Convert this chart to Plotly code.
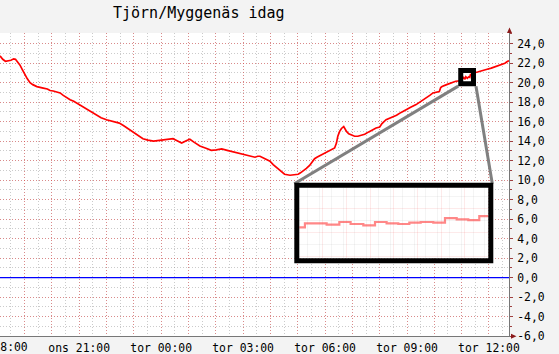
import plotly.graph_objects as go
from datetime import datetime

TITLE = "Tjörn/Myggenäs idag"

# ---- data (time, temperature °C) ----
times = [
    "2024-05-15 18:06", "2024-05-15 18:12", "2024-05-15 18:18", "2024-05-15 18:24",
    "2024-05-15 18:30", "2024-05-15 18:36", "2024-05-15 18:40", "2024-05-15 18:45",
    "2024-05-15 18:50", "2024-05-15 18:55", "2024-05-15 19:01", "2024-05-15 19:06",
    "2024-05-15 19:12", "2024-05-15 19:18", "2024-05-15 19:27", "2024-05-15 19:34",
    "2024-05-15 19:41", "2024-05-15 19:50", "2024-05-15 19:56", "2024-05-15 20:03",
    "2024-05-15 20:10", "2024-05-15 20:18", "2024-05-15 20:25", "2024-05-15 20:32",
    "2024-05-15 20:40", "2024-05-15 20:48", "2024-05-15 20:55", "2024-05-15 21:05",
    "2024-05-15 21:16", "2024-05-15 21:25", "2024-05-15 21:38", "2024-05-15 21:48",
    "2024-05-15 22:00", "2024-05-15 22:10", "2024-05-15 22:19", "2024-05-15 22:28",
    "2024-05-15 22:37", "2024-05-15 22:48", "2024-05-15 22:59", "2024-05-15 23:10",
    "2024-05-15 23:20", "2024-05-15 23:31", "2024-05-15 23:43", "2024-05-15 23:52",
    "2024-05-16 00:05", "2024-05-16 00:15", "2024-05-16 00:26", "2024-05-16 00:35",
    "2024-05-16 00:45", "2024-05-16 00:55", "2024-05-16 01:03", "2024-05-16 01:12",
    "2024-05-16 01:25", "2024-05-16 01:37", "2024-05-16 01:50", "2024-05-16 02:01",
    "2024-05-16 02:13", "2024-05-16 02:25", "2024-05-16 02:38", "2024-05-16 02:52",
    "2024-05-16 03:07", "2024-05-16 03:17", "2024-05-16 03:26", "2024-05-16 03:32",
    "2024-05-16 03:37", "2024-05-16 03:48", "2024-05-16 03:59", "2024-05-16 04:06",
    "2024-05-16 04:13", "2024-05-16 04:22", "2024-05-16 04:31", "2024-05-16 04:43",
    "2024-05-16 04:52", "2024-05-16 05:01", "2024-05-16 05:06", "2024-05-16 05:11",
    "2024-05-16 05:19", "2024-05-16 05:26", "2024-05-16 05:32", "2024-05-16 05:37",
    "2024-05-16 05:42", "2024-05-16 05:48", "2024-05-16 05:55", "2024-05-16 06:03",
    "2024-05-16 06:12", "2024-05-16 06:21", "2024-05-16 06:25", "2024-05-16 06:28",
    "2024-05-16 06:32", "2024-05-16 06:36", "2024-05-16 06:41", "2024-05-16 06:44",
    "2024-05-16 06:47", "2024-05-16 06:52", "2024-05-16 06:58", "2024-05-16 07:05",
    "2024-05-16 07:12", "2024-05-16 07:20", "2024-05-16 07:27", "2024-05-16 07:36",
    "2024-05-16 07:45", "2024-05-16 07:52", "2024-05-16 08:00", "2024-05-16 08:05",
    "2024-05-16 08:14", "2024-05-16 08:25", "2024-05-16 08:37", "2024-05-16 08:47",
    "2024-05-16 08:58", "2024-05-16 09:09", "2024-05-16 09:20", "2024-05-16 09:32",
    "2024-05-16 09:43", "2024-05-16 09:50", "2024-05-16 09:57", "2024-05-16 10:04",
    "2024-05-16 10:11", "2024-05-16 10:14", "2024-05-16 10:17", "2024-05-16 10:27",
    "2024-05-16 10:37", "2024-05-16 10:47", "2024-05-16 10:57:07", "2024-05-16 10:58:50",
    "2024-05-16 11:00:27", "2024-05-16 11:02:03", "2024-05-16 11:03:56", "2024-05-16 11:05:36",
    "2024-05-16 11:07:29", "2024-05-16 11:09:13", "2024-05-16 11:10:56", "2024-05-16 11:12:40",
    "2024-05-16 11:14:18", "2024-05-16 11:15:59", "2024-05-16 11:17:51", "2024-05-16 11:19:35",
    "2024-05-16 11:21:19", "2024-05-16 11:23:02", "2024-05-16 11:24:40", "2024-05-16 11:26:20",
    "2024-05-16 11:35", "2024-05-16 11:45", "2024-05-16 11:54", "2024-05-16 12:05",
    "2024-05-16 12:16", "2024-05-16 12:26", "2024-05-16 12:35", "2024-05-16 12:41",
    "2024-05-16 12:44",
]
temps = [
    22.75, 22.4, 22.2, 22.25,
    22.3, 22.45, 22.4, 22.1,
    21.8, 21.35, 20.8, 20.4,
    20.0, 19.8, 19.6, 19.55,
    19.45, 19.35, 19.2, 19.15,
    19.05, 18.95, 18.7, 18.45,
    18.25, 18.1, 17.9, 17.6,
    17.3, 17.05, 16.7, 16.4,
    16.2, 16.1, 16.0, 15.85,
    15.6, 15.25, 14.85, 14.5,
    14.25, 14.1, 14.0, 14.05,
    14.15, 14.15, 14.25, 14.05,
    13.8, 14.05, 14.2, 13.9,
    13.5, 13.3, 13.05, 13.1,
    13.2, 13.05, 12.9, 12.8,
    12.6, 12.45, 12.35, 12.45,
    12.45, 12.2, 11.95, 11.6,
    11.3, 10.9, 10.6, 10.5,
    10.55, 10.6, 10.75, 10.9,
    11.2, 11.5, 11.9, 12.2,
    12.35, 12.5, 12.65, 12.85,
    13.05, 13.3, 13.8, 14.5,
    15.0, 15.3, 15.5, 15.2,
    15.0, 14.75, 14.6, 14.5,
    14.5, 14.6, 14.7, 14.95,
    15.2, 15.35, 15.45, 15.8,
    16.2, 16.4, 16.65, 16.95,
    17.25, 17.5, 17.75, 18.1,
    18.45, 18.7, 18.95, 19.0,
    19.1, 19.5, 19.6, 19.8,
    20.0, 20.15, 20.2, 20.5,
    20.5, 20.4, 20.6, 20.45,
    20.35, 20.6, 20.5, 20.45,
    20.55, 20.6, 20.55, 20.9,
    20.8, 20.75, 21.05, 21.0,
    21.1, 21.2, 21.35, 21.5,
    21.7, 21.85, 22.0, 22.2,
    22.25,
]

# tick labels
x_label_times = ["2024-05-15 18:00", "2024-05-15 21:00", "2024-05-16 00:00",
                 "2024-05-16 03:00", "2024-05-16 06:00", "2024-05-16 09:00",
                 "2024-05-16 12:00"]
x_label_texts = ["ons 18:00", "ons 21:00", "tor 00:00", "tor 03:00",
                 "tor 06:00", "tor 09:00", "tor 12:00"]
y_tick_vals = [-6, -4, -2, 0, 2, 4, 6, 8, 10, 12, 14, 16, 18, 20, 22, 24]
y_tick_text = ["-6,0", "-4,0", "-2,0", "0,0", "2,0", "4,0", "6,0", "8,0",
               "10,0", "12,0", "14,0", "16,0", "18,0", "20,0", "22,0", "24,0"]

X_RANGE = ["2024-05-15 18:06", "2024-05-16 12:44"]
Y_RANGE = [-6, 25.1]
ZOOM_X = ["2024-05-16 10:58", "2024-05-16 11:26"]
ZOOM_Y = [19.9, 21.25]
INSET_Y = [17.85, 23.2]

# ---- geometry ----
W, H = 559, 354
ML, MR, MT, MB = 0, 50, 33, 18
PW, PH = W - ML - MR, H - MT - MB
FONT = "DejaVu Sans Mono"

def pxx(px):
    return (px - ML) / PW

def pxy(py):
    return (H - MB - py) / PH

fmt = "%Y-%m-%d %H:%M"
t0 = datetime.strptime(X_RANGE[0], fmt)
t1 = datetime.strptime(X_RANGE[1], fmt)
span = (t1 - t0).total_seconds()

def tx(s):
    return (datetime.strptime(s, fmt) - t0).total_seconds() / span

def vy(v):
    return (v - Y_RANGE[0]) / (Y_RANGE[1] - Y_RANGE[0])

# hourly major grid positions with labels every third hour
grid_vals, grid_text = [], []
start_h = datetime.strptime("2024-05-15 19:00", fmt)
for k in range(18):
    t = start_h.timestamp() + k * 3600
    s = datetime.fromtimestamp(t).strftime(fmt)
    grid_vals.append(s)
    grid_text.append(x_label_texts[x_label_times.index(s)] if s in x_label_times else "")

MAJOR = "rgba(235,60,60,0.45)"
MINOR = "rgba(140,140,140,0.45)"
DASH = "1px,2px"

fig = go.Figure()
fig.add_trace(go.Scatter(x=times, y=temps, mode="lines",
                         line=dict(color="#ff0000", width=1.7),
                         xaxis="x", yaxis="y", showlegend=False))
fig.add_trace(go.Scatter(x=times, y=temps, mode="lines", line_shape="hv",
                         line=dict(color="rgba(255,70,70,0.65)", width=2.2),
                         xaxis="x2", yaxis="y2", showlegend=False))

# inset geometry (pixels)
IN_X0, IN_X1, IN_Y0, IN_Y1 = 299.3, 488.3, 187.7, 258.3
BOX_X0, BOX_X1, BOX_Y0, BOX_Y1 = 296.8, 490.8, 185.2, 260.8

fig.update_layout(
    width=W, height=H,
    margin=dict(l=ML, r=MR, t=MT, b=MB),
    paper_bgcolor="#f3f3f3", plot_bgcolor="#ffffff",
    font=dict(family=FONT, size=11.4, color="#000000"),
    title=dict(text=TITLE, font=dict(family=FONT, size=15, color="#000"),
               xref="container", x=113 / W, xanchor="left",
               yref="container", y=1 - 12.5 / H, yanchor="middle"),
    xaxis=dict(type="date", range=X_RANGE, domain=[0, 1],
               tickmode="array", tickvals=grid_vals, ticktext=grid_text,
               showgrid=True, gridcolor=MAJOR, griddash=DASH, gridwidth=1,
               minor=dict(dtick=1800000, tick0="2024-05-15 18:00", showgrid=True,
                          gridcolor=MINOR, griddash=DASH, gridwidth=1),
               showline=True, linecolor="#777777", linewidth=1,
               ticks="", zeroline=False, ticklabelstandoff=1,
               tickfont=dict(family=FONT, size=11.4)),
    yaxis=dict(range=Y_RANGE, side="right", domain=[0, 1],
               tickmode="array", tickvals=y_tick_vals, ticktext=y_tick_text,
               showgrid=True, gridcolor=MAJOR, griddash=DASH, gridwidth=1,
               minor=dict(dtick=1, tick0=0, showgrid=True, gridcolor=MINOR,
                          griddash=DASH, gridwidth=1, ticks="outside",
                          ticklen=2, tickcolor="#a04040"),
               showline=True, linecolor="#777777", linewidth=1,
               ticks="outside", ticklen=3, tickcolor="#a04040",
               zeroline=False, ticklabelstandoff=2,
               tickfont=dict(family=FONT, size=11.4)),
    xaxis2=dict(type="date", range=ZOOM_X, domain=[pxx(IN_X0), pxx(IN_X1)],
                anchor="y2", showticklabels=False, ticks="",
                dtick=210000, tick0="2024-05-16 10:58",
                showgrid=True, gridcolor="rgba(240,80,80,0.12)",
                minor=dict(dtick=105000, showgrid=True, gridcolor="rgba(150,150,150,0.10)"),
                showline=False, zeroline=False),
    yaxis2=dict(range=INSET_Y, domain=[pxy(IN_Y1), pxy(IN_Y0)],
                anchor="x2", showticklabels=False, ticks="",
                dtick=1.8, tick0=0,
                showgrid=True, gridcolor="rgba(240,80,80,0.12)",
                minor=dict(dtick=0.9, showgrid=True, gridcolor="rgba(150,150,150,0.10)"),
                showline=False, zeroline=False),
    showlegend=False,
)

# white backing for inset (in the inset subplot, below its grid)
fig.add_shape(type="rect", xref="x2", yref="y2",
              x0=ZOOM_X[0], x1=ZOOM_X[1], y0=INSET_Y[0], y1=INSET_Y[1],
              fillcolor="#ffffff", line=dict(width=0), layer="below")

# blue zero line
fig.add_shape(type="line", xref="x", yref="y", x0=X_RANGE[0], x1=X_RANGE[1], y0=0, y1=0,
              line=dict(color="#0000ff", width=1.2), layer="above")

# connector lines (gray) from small box to inset
half = 2.5
sx0 = tx(ZOOM_X[0]) - half / PW
sx1 = tx(ZOOM_X[1]) + half / PW
sy0 = vy(ZOOM_Y[0]) - half / PH
fig.add_shape(type="line", xref="paper", yref="paper",
              x0=sx0, y0=sy0, x1=pxx(BOX_X0 - half), y1=pxy(BOX_Y0 - half + 1),
              line=dict(color="#808080", width=3), layer="above")
fig.add_shape(type="line", xref="paper", yref="paper",
              x0=sx1, y0=sy0, x1=pxx(BOX_X1 + half - 1), y1=pxy(BOX_Y0 - half + 1),
              line=dict(color="#808080", width=3), layer="above")

# small zoom box
fig.add_shape(type="rect", xref="x", yref="y",
              x0=ZOOM_X[0], x1=ZOOM_X[1], y0=ZOOM_Y[0], y1=ZOOM_Y[1],
              line=dict(color="#000000", width=5), layer="above")
# inset border
fig.add_shape(type="rect", xref="paper", yref="paper",
              x0=pxx(BOX_X0), x1=pxx(BOX_X1), y0=pxy(BOX_Y1), y1=pxy(BOX_Y0),
              line=dict(color="#000000", width=5), layer="above")

# arrows
ARROW = "#8b1a1a"
ax_x = 509.5
fig.add_shape(type="path", xref="paper", yref="paper",
              path=f"M {pxx(ax_x-2.5)},{pxy(33)} L {pxx(ax_x+2.5)},{pxy(33)} L {pxx(ax_x)},{pxy(27.5)} Z",
              fillcolor=ARROW, line=dict(width=0), layer="above")
fig.add_shape(type="path", xref="paper", yref="paper",
              path=f"M {pxx(511)},{pxy(333.8)} L {pxx(511)},{pxy(338.8)} L {pxx(516.5)},{pxy(336.3)} Z",
              fillcolor=ARROW, line=dict(width=0), layer="above")

# partially visible first label (its tick lies left of the window, as in the reference)
fig.add_annotation(xref="paper", yref="paper", x=tx(x_label_times[0]), y=0,
                   xanchor="center", yanchor="top", yshift=-2,
                   text=x_label_texts[0], showarrow=False,
                   font=dict(family=FONT, size=11.4, color="#000"))

fig.write_html("out.html")
